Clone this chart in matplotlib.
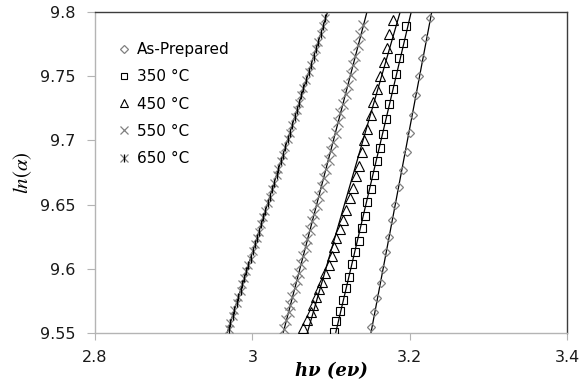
import matplotlib
matplotlib.use('Agg')
import matplotlib.pyplot as plt
import numpy as np

plt.rcParams['mathtext.fontset'] = 'stix'

# photon energy hv (eV) and ln(alpha), per sample
hv_asprep = [3.226, 3.220, 3.216, 3.212, 3.208, 3.204, 3.200, 3.196, 3.192, 3.187,
             3.182, 3.178, 3.174, 3.170, 3.166, 3.163, 3.159, 3.155, 3.151]
ln_asprep = [9.795, 9.780, 9.764, 9.750, 9.735, 9.720, 9.706, 9.691, 9.677, 9.664,
             9.650, 9.638, 9.625, 9.613, 9.600, 9.589, 9.577, 9.566, 9.555]

hv_350 = [3.195, 3.191, 3.187, 3.183, 3.179, 3.174, 3.170, 3.166, 3.162, 3.159,
          3.155, 3.151, 3.146, 3.143, 3.139, 3.135, 3.131, 3.127, 3.123, 3.119,
          3.115, 3.111, 3.107, 3.104]
ln_350 = [9.789, 9.776, 9.764, 9.752, 9.740, 9.728, 9.717, 9.705, 9.694, 9.684,
          9.673, 9.662, 9.652, 9.641, 9.632, 9.622, 9.613, 9.604, 9.594, 9.585,
          9.576, 9.567, 9.559, 9.551]

hv_450 = [3.179, 3.174, 3.171, 3.167, 3.162, 3.159, 3.154, 3.151, 3.146, 3.142,
          3.139, 3.135, 3.132, 3.128, 3.124, 3.119, 3.115, 3.111, 3.107, 3.104,
          3.101, 3.097, 3.093, 3.088, 3.085, 3.081, 3.077, 3.074, 3.069, 3.065]
ln_450 = [9.794, 9.783, 9.772, 9.761, 9.750, 9.740, 9.730, 9.720, 9.709, 9.700,
          9.691, 9.680, 9.672, 9.663, 9.655, 9.646, 9.638, 9.631, 9.624, 9.617,
          9.610, 9.603, 9.597, 9.590, 9.584, 9.578, 9.572, 9.566, 9.560, 9.554]

hv_550 = [3.141, 3.137, 3.134, 3.131, 3.128, 3.125, 3.122, 3.119, 3.115, 3.112,
          3.109, 3.106, 3.103, 3.100, 3.097, 3.094, 3.091, 3.088, 3.085, 3.082,
          3.079, 3.076, 3.073, 3.070, 3.068, 3.065, 3.062, 3.059, 3.057, 3.054,
          3.051, 3.048, 3.046, 3.043, 3.040]
ln_550 = [9.790, 9.782, 9.774, 9.766, 9.759, 9.751, 9.743, 9.736, 9.728, 9.721,
          9.714, 9.706, 9.699, 9.692, 9.685, 9.678, 9.671, 9.664, 9.657, 9.650,
          9.643, 9.637, 9.630, 9.623, 9.617, 9.610, 9.604, 9.597, 9.591, 9.585,
          9.578, 9.572, 9.566, 9.560, 9.553]

hv_650 = [3.093, 3.090, 3.087, 3.084, 3.081, 3.078, 3.075, 3.072, 3.068, 3.065,
          3.062, 3.059, 3.057, 3.054, 3.051, 3.048, 3.045, 3.042, 3.039, 3.036,
          3.033, 3.031, 3.028, 3.025, 3.022, 3.020, 3.016, 3.014, 3.011, 3.008,
          3.006, 3.003, 3.001, 2.998, 2.995, 2.992, 2.990, 2.987, 2.985, 2.982,
          2.980, 2.977, 2.975, 2.972, 2.970]
ln_650 = [9.795, 9.789, 9.783, 9.777, 9.771, 9.765, 9.759, 9.753, 9.747, 9.741,
          9.735, 9.729, 9.724, 9.718, 9.712, 9.706, 9.701, 9.695, 9.689, 9.684,
          9.678, 9.673, 9.667, 9.662, 9.656, 9.651, 9.645, 9.640, 9.635, 9.629,
          9.624, 9.619, 9.614, 9.608, 9.603, 9.598, 9.593, 9.588, 9.583, 9.578,
          9.573, 9.568, 9.563, 9.558, 9.553]

labels = ['As-Prepared', '350 °C', '450 °C', '550 °C', '650 °C']

fig = plt.figure(figsize=(5.82, 3.83), dpi=100)
ax = fig.add_axes([0.1632, 0.1305, 0.811, 0.8382])

gray = '#808080'
series = [(hv_asprep, ln_asprep), (hv_350, ln_350), (hv_450, ln_450),
          (hv_550, ln_550), (hv_650, ln_650)]

# linear trendlines, drawn long and clipped by the axes
for hv, ln in series:
    m, c = np.polyfit(hv, ln, 1)
    xs = np.array([(9.5 - c) / m, (9.85 - c) / m])
    ax.plot(xs, m * xs + c, color='black', lw=0.9, zorder=2)

h1, = ax.plot(hv_asprep, ln_asprep, ls='none', marker='D', ms=4.5, mfc='none',
              mec=gray, mew=0.9, zorder=3)
h2, = ax.plot(hv_350, ln_350, ls='none', marker='s', ms=5.5, mfc='none',
              mec='black', mew=0.8, zorder=3)
h3, = ax.plot(hv_450, ln_450, ls='none', marker='^', ms=6.5, mfc='none',
              mec='black', mew=0.8, zorder=3)
h4, = ax.plot(hv_550, ln_550, ls='none', marker='x', ms=6.5,
              mec=gray, mew=0.9, zorder=3)
h5a, = ax.plot(hv_650, ln_650, ls='none', marker='x', ms=6.0,
               mec=gray, mew=0.9, zorder=3)
h5b, = ax.plot(hv_650, ln_650, ls='none', marker='|', ms=6.0,
               mec='black', mew=0.9, zorder=3)

leg = ax.legend([h1, h2, h3, h4, (h5a, h5b)], labels, loc='upper left',
                bbox_to_anchor=(0.035, 0.925), frameon=False, fontsize=11,
                handlelength=0.8, handletextpad=0.45, labelspacing=0.8,
                borderaxespad=0, markerscale=0.85)

ax.set_xlim(2.8, 3.4)
ax.set_ylim(9.55, 9.8)
ax.set_xticks([2.8, 3.0, 3.2, 3.4])
ax.set_xticklabels(['2.8', '3', '3.2', '3.4'])
ax.set_yticks([9.55, 9.6, 9.65, 9.7, 9.75, 9.8])
ax.set_yticklabels(['9.55', '9.6', '9.65', '9.7', '9.75', '9.8'])

for s in ['left', 'bottom']:
    ax.spines[s].set_color('#b4b4b4')
    ax.spines[s].set_linewidth(1.0)
for s in ['top', 'right']:
    ax.spines[s].set_color('#3c3c3c')
    ax.spines[s].set_linewidth(1.0)

ax.tick_params(axis='both', direction='out', color='#b4b4b4', labelsize=11.5,
               labelcolor='#1a1a1a')
ax.tick_params(axis='y', length=6, pad=8)
ax.tick_params(axis='x', length=5, pad=7)

ax.set_ylabel(r'$ln(\alpha)$', fontsize=15, labelpad=4)
ax.set_xlabel('hν (eν)', fontsize=13, family='DejaVu Serif', style='italic',
              weight='bold', labelpad=-2)

fig.savefig('out.png', dpi=100)
